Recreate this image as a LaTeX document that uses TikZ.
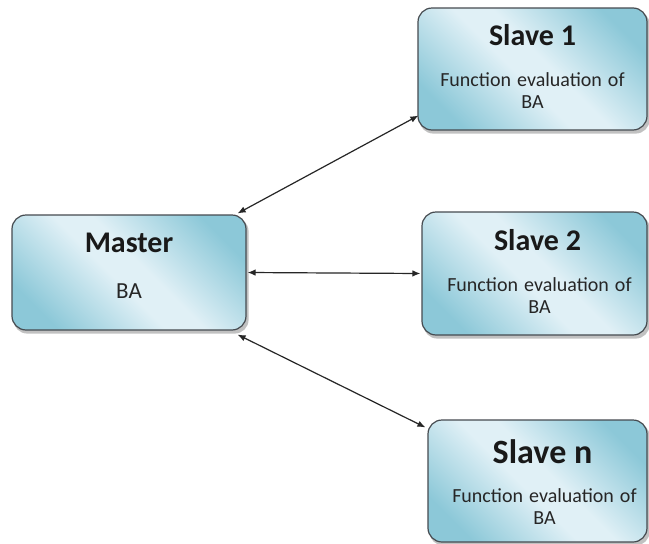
\documentclass[tikz,border=0pt]{standalone}
\usepackage{fontspec}
\setmainfont{Carlito}
\usetikzlibrary{arrows.meta,calc,backgrounds}
\definecolor{boxdark}{RGB}{140,200,216}
\definecolor{boxlight}{RGB}{224,240,246}
\definecolor{boxedge}{RGB}{70,75,80}
\pgfdeclareverticalshading{boxsh}{100bp}{color(0bp)=(boxdark); color(24bp)=(boxdark); color(46bp)=(boxlight); color(54bp)=(boxlight); color(76bp)=(boxdark); color(100bp)=(boxdark)}
\newcommand\mybodyfont{\fontsize{20}{23}\selectfont\spaceskip=0.3em plus 0.1em\relax}
\begin{document}
\begin{tikzpicture}[x=1pt,y=-1pt,
  box/.style={draw=boxedge,line width=1.2pt,rounded corners=14pt,
    shading=boxsh,shading angle=-45,inner sep=0pt},
  shadowbox/.style={fill=black!40,rounded corners=14pt,opacity=0.6},
  ttl/.style={font=\fontsize{30}{34}\selectfont\bfseries,text=black!90,inner sep=0pt},
  ttlbig/.style={font=\fontsize{34}{38}\selectfont\bfseries,text=black!90,inner sep=0pt},
  body/.style={font=\mybodyfont,text=black!85,inner sep=0pt},
  link/.style={draw=black!85,line width=1.2pt,{Latex[length=8pt,width=6.5pt]}-{Latex[length=8pt,width=6.5pt]}}
]
\useasboundingbox (0,0) rectangle (649,544);

\node[box,minimum width=234pt,minimum height=115pt] (master) at (129,272.5) {};
\node[box,minimum width=229pt,minimum height=122pt] (s1) at (532.5,69) {};
\node[box,minimum width=225pt,minimum height=123pt] (s2) at (534.5,273.5) {};
\node[box,minimum width=219pt,minimum height=122pt] (sn) at (537.5,481) {};

\begin{scope}[on background layer]
  \fill[white] (0,0) rectangle (649,544);
  \foreach \b in {master,s1,s2,sn}
    \fill[shadowbox] ($(\b.north west)+(2,3)$) rectangle ($(\b.south east)+(2,3)$);
\end{scope}

\node[ttl] (mt) at ($(master.north)+(0,28)$) {Master};
\node[body,font=\fontsize{23}{26}\selectfont] (mb) at ($(master.north)+(0,77)$) {BA};

\node[ttl] (s1t) at ($(s1.north)+(0,28)$) {Slave 1};
\node[body] (s1f) at ($(s1.north)+(0,72)$) {Function evaluation of};
\node[body] (s1b) at ($(s1.north)+(0,95)$) {BA};

\node[ttl] (s2t) at ($(s2.north)+(3,29)$) {Slave 2};
\node[body] (s2f) at ($(s2.north)+(5,73)$) {Function evaluation of};
\node[body] (s2b) at ($(s2.north)+(5,96)$) {BA};

\node[ttlbig] (snt) at ($(sn.north)+(5,32)$) {Slave n};
\node[body] (snf) at ($(sn.north)+(7,76)$) {Function evaluation of};
\node[body] (snb) at ($(sn.north)+(7,99)$) {BA};

\coordinate (m1) at ($(master.north east)+(-9,-1)$);
\coordinate (m2) at ($(master.east)+(1,0)$);
\coordinate (m3) at ($(master.south east)+(-9,4)$);
\coordinate (e1) at ($(s1.south west)+(1,-15)$);
\coordinate (e2) at ($(s2.west)+(-1,0)$);
\coordinate (e3) at ($(sn.north west)+(-2,8)$);

\draw[link] (m1) -- (e1);
\draw[link] (m2) -- (e2);
\draw[link] (m3) -- (e3);
\end{tikzpicture}
\end{document}
